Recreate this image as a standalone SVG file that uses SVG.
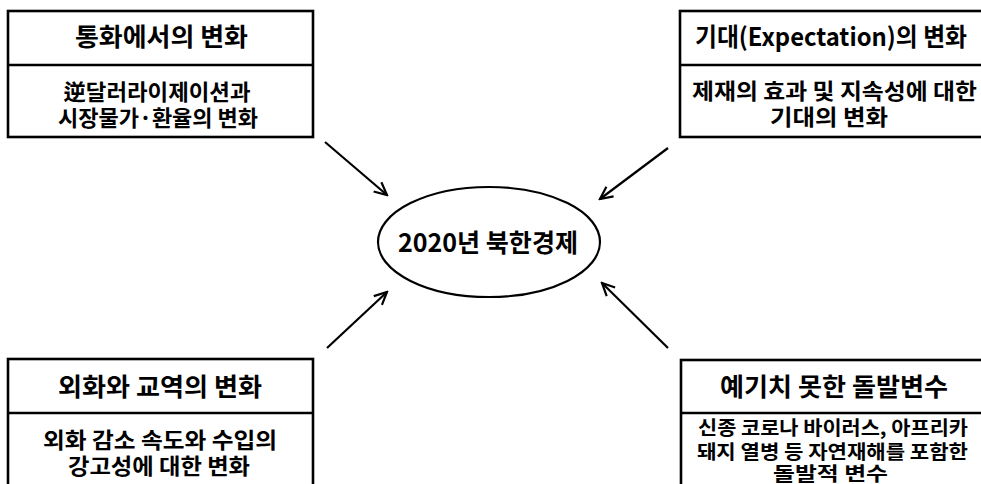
<svg xmlns="http://www.w3.org/2000/svg" width="981" height="484" viewBox="0 0 981 484">
<defs>
<style>
.box{fill:#fff;stroke:#000;stroke-width:2.6}
.t{font-family:"Noto Sans CJK KR","Noto Sans",sans-serif;font-weight:bold;fill:#000;text-anchor:middle}
.title{font-size:25px}
.body{font-size:22px}
.small{font-size:19.5px}
.arrow{stroke:#000;stroke-width:2.2;fill:none}
</style>
<marker id="ah" viewBox="0 0 16 16" refX="14.5" refY="8" markerWidth="16" markerHeight="16" markerUnits="userSpaceOnUse" orient="auto">
<path d="M2,2 L14.5,8 L2,14" fill="none" stroke="#000" stroke-width="2.2"/>
</marker>
</defs>
<rect width="981" height="484" fill="#fff"/>

<g id="node-currency">
<rect class="box" x="8" y="11" width="305" height="126"/>
<line class="box" x1="8" y1="65" x2="313" y2="65"/>
<text class="t title" x="161.5" y="46" textLength="173" lengthAdjust="spacingAndGlyphs">통화에서의 변화</text>
<text class="t body" x="157" y="100" textLength="187" lengthAdjust="spacingAndGlyphs">逆달러라이제이션과</text>
<text class="t body" x="158" y="126" textLength="200" lengthAdjust="spacingAndGlyphs">시장물가·환율의 변화</text>
</g>

<g id="node-expectation">
<rect class="box" x="680" y="11" width="304" height="126"/>
<line class="box" x1="680" y1="65" x2="984" y2="65"/>
<text class="t title" x="831" y="46" textLength="272" lengthAdjust="spacingAndGlyphs">기대(Expectation)의 변화</text>
<text class="t body" x="834.5" y="99" textLength="285" lengthAdjust="spacingAndGlyphs">제재의 효과 및 지속성에 대한</text>
<text class="t body" x="829" y="125" textLength="118" lengthAdjust="spacingAndGlyphs">기대의 변화</text>
</g>

<g id="node-forex">
<rect class="box" x="8" y="359" width="305" height="140"/>
<line class="box" x1="8" y1="413" x2="313" y2="413"/>
<text class="t title" x="160" y="396" textLength="204" lengthAdjust="spacingAndGlyphs">외화와 교역의 변화</text>
<text class="t body" x="160" y="448" textLength="234" lengthAdjust="spacingAndGlyphs">외화 감소 속도와 수입의</text>
<text class="t body" x="159" y="474" textLength="182" lengthAdjust="spacingAndGlyphs">강고성에 대한 변화</text>
</g>

<g id="node-shock">
<rect class="box" x="681" y="360" width="303" height="140"/>
<line class="box" x1="681" y1="413" x2="984" y2="413"/>
<text class="t title" x="834" y="396" textLength="228" lengthAdjust="spacingAndGlyphs">예기치 못한 돌발변수</text>
<text class="t small" x="833" y="435" textLength="270" lengthAdjust="spacingAndGlyphs">신종 코로나 바이러스, 아프리카</text>
<text class="t small" x="832.5" y="458.5" textLength="271" lengthAdjust="spacingAndGlyphs">돼지 열병 등 자연재해를 포함한</text>
<text class="t small" x="830.5" y="481" textLength="115" lengthAdjust="spacingAndGlyphs">돌발적 변수</text>
</g>

<g id="node-center">
<ellipse cx="489" cy="242" rx="111" ry="55" fill="#fff" stroke="#000" stroke-width="2.2"/>
<text class="t" x="488" y="252" font-size="25.5" textLength="180" lengthAdjust="spacingAndGlyphs">2020년 북한경제</text>
</g>

<g id="connectors">
<line class="arrow" x1="325" y1="142" x2="387" y2="195" marker-end="url(#ah)"/>
<line class="arrow" x1="668" y1="148" x2="600" y2="199" marker-end="url(#ah)"/>
<line class="arrow" x1="327" y1="348" x2="387" y2="292" marker-end="url(#ah)"/>
<line class="arrow" x1="668" y1="348" x2="602" y2="283" marker-end="url(#ah)"/>
</g>
</svg>
